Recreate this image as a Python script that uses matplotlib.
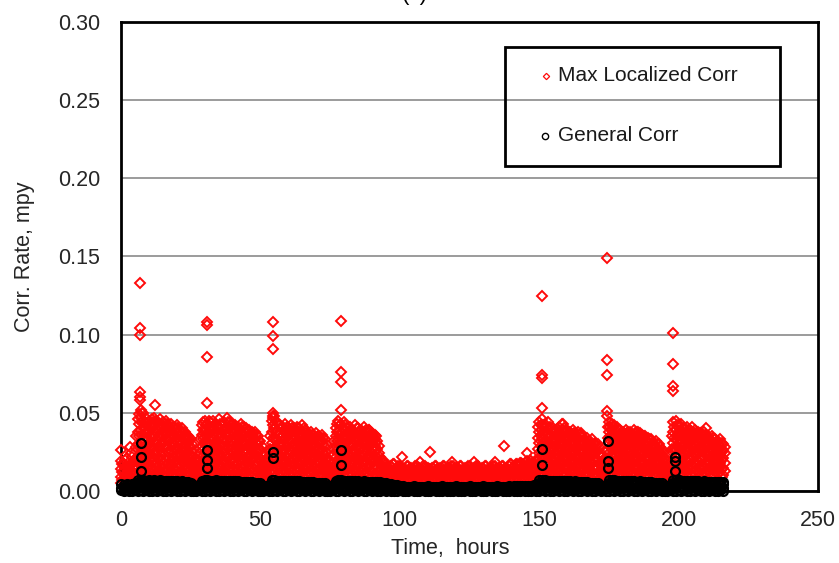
import numpy as np
import matplotlib
matplotlib.use('Agg')
import matplotlib.pyplot as plt
from matplotlib.patches import Rectangle

plt.rcParams['font.family'] = ['Liberation Sans', 'DejaVu Sans']

# hourly sample times, 0 to 216 h
hours = np.arange(217)

# max localized corrosion readings for each hour, in 1/1000 mpy
localized_hourly_x1000 = [
    [5, 9, 14, 19], [4, 8, 13, 17], [6, 11, 16, 21], [5, 10, 15], [7, 12, 18, 22], [6, 11, 16, 20],
    [9, 15, 22, 30, 38, 46], [11, 17, 24, 31, 39, 47, 52], [10, 18, 25, 33, 41, 50], [12, 19, 26, 34, 40, 47], [10, 16, 24, 31, 38, 45], [11, 18, 27, 33, 41, 46],
    [13, 20, 26, 35, 42, 47], [10, 17, 25, 32, 39, 44], [12, 19, 27, 34, 40, 46], [11, 18, 24, 31, 38, 44], [13, 20, 28, 33, 41, 45], [10, 17, 25, 32, 37, 42],
    [12, 19, 26, 33, 39, 43], [11, 18, 24, 30, 36, 41], [13, 20, 27, 34, 40, 42], [10, 16, 23, 29, 35, 39], [12, 18, 25, 31, 37, 40], [11, 17, 23, 30, 35, 38],
    [12, 19, 25, 31, 35], [10, 16, 22, 28, 33], [8, 13, 18, 22], [7, 12, 17, 21], [9, 14, 19, 24], [10, 16, 22, 29, 36, 42],
    [12, 18, 25, 32, 39, 45], [11, 17, 24, 31, 37, 43], [10, 17, 23, 30, 37, 44], [12, 19, 26, 33, 40, 45], [11, 18, 24, 31, 38, 43], [13, 20, 27, 34, 41, 46],
    [10, 16, 23, 30, 36, 42], [12, 19, 25, 33, 39, 44], [11, 17, 24, 32, 38, 47], [13, 20, 26, 32, 40, 44], [10, 18, 25, 31, 37, 43], [12, 19, 26, 33, 39, 42],
    [11, 17, 23, 30, 36, 41], [13, 20, 27, 33, 38, 43], [10, 16, 24, 30, 36, 41], [12, 18, 25, 31, 37, 40], [11, 17, 23, 29, 34, 39], [12, 19, 25, 31, 36, 38],
    [10, 16, 22, 28, 33, 38], [12, 18, 24, 30, 35], [10, 15, 21, 27, 32], [8, 13, 18, 23], [7, 12, 16, 20], [9, 14, 19, 25],
    [11, 17, 24, 31, 38, 45], [12, 19, 26, 33, 40, 48], [10, 18, 25, 32, 39, 44], [12, 19, 25, 31, 37, 42], [11, 17, 24, 30, 36, 41], [13, 20, 26, 33, 38, 43],
    [10, 16, 23, 29, 35, 40], [12, 18, 25, 31, 37, 42], [11, 17, 23, 30, 36, 40], [13, 19, 26, 32, 38, 41], [10, 17, 24, 30, 35, 40], [12, 18, 24, 31, 36, 42],
    [11, 16, 23, 29, 34, 39], [12, 18, 24, 30, 35, 37], [10, 16, 22, 28, 33, 38], [12, 19, 25, 30, 36], [11, 17, 23, 29, 34, 37], [13, 18, 24, 30, 35],
    [10, 16, 22, 27, 32, 36], [12, 17, 23, 28, 33], [8, 12, 17, 21], [7, 11, 15, 19], [9, 13, 18, 23], [10, 16, 22, 29, 35, 40],
    [12, 18, 25, 32, 38, 45], [11, 17, 24, 31, 37, 43], [13, 19, 26, 33, 39, 44], [10, 16, 23, 29, 35, 40], [12, 18, 25, 31, 37, 41], [11, 17, 24, 30, 36, 39],
    [13, 19, 25, 32, 37, 42], [10, 16, 22, 29, 34, 40], [12, 18, 24, 31, 36, 39], [11, 17, 23, 30, 35, 41], [12, 19, 25, 31, 36, 39], [10, 16, 22, 28, 34, 39],
    [12, 18, 24, 30, 35, 37], [11, 17, 23, 29, 33, 36], [10, 15, 21, 27, 32], [8, 12, 17, 22], [7, 11, 16, 20], [8, 13, 17],
    [6, 10, 15], [7, 12, 16], [8, 11, 17], [6, 10, 14], [7, 12, 16], [8, 11, 15],
    [6, 10, 14], [7, 12, 16], [8, 11, 15], [6, 10, 14], [7, 12, 16], [8, 11, 15],
    [6, 10, 13], [7, 12, 16], [8, 11, 15], [6, 10, 14], [7, 11, 15], [8, 12, 16],
    [6, 10, 14], [7, 11, 15], [8, 12, 16], [6, 10, 13], [7, 11, 15], [8, 12, 16],
    [6, 10, 14], [7, 11, 15], [8, 12, 16], [6, 10, 13], [7, 11, 15], [8, 12, 16],
    [6, 10, 14], [7, 11, 15], [8, 12, 16], [6, 10, 13], [7, 11, 15], [8, 12, 16],
    [6, 10, 14], [7, 11, 15], [8, 12, 16], [6, 10, 14], [7, 11, 15], [8, 12, 16],
    [6, 10, 14], [7, 12, 16], [8, 12, 17], [7, 11, 16], [8, 13, 17], [7, 12, 18],
    [8, 12, 17], [7, 13, 18], [8, 12, 17], [7, 13, 19], [8, 12, 18], [9, 14, 20],
    [11, 17, 24, 31, 38, 44], [12, 19, 26, 33, 39, 46], [10, 18, 25, 32, 38, 43], [12, 18, 24, 31, 37, 44], [11, 17, 23, 30, 36, 41], [13, 19, 26, 32, 38, 40],
    [10, 16, 23, 29, 35, 39], [12, 18, 25, 31, 36, 41], [11, 17, 24, 30, 36, 43], [12, 19, 25, 31, 37, 40], [10, 16, 22, 29, 35, 39], [12, 18, 24, 30, 36, 38],
    [11, 17, 23, 30, 35, 39], [13, 19, 25, 31, 36], [10, 16, 22, 28, 34, 38], [12, 18, 24, 30, 35, 37], [11, 17, 22, 28, 33], [12, 18, 24, 29, 34],
    [10, 16, 21, 27, 32], [12, 17, 23, 28, 33], [11, 16, 22, 27, 31], [10, 15, 20, 26, 30], [8, 12, 17, 22], [7, 11, 16, 20],
    [9, 14, 20, 26], [11, 17, 24, 31, 38, 44], [12, 19, 26, 33, 39, 43], [10, 16, 23, 30, 36, 42], [12, 18, 25, 31, 37, 41], [11, 17, 24, 30, 35, 39],
    [13, 19, 25, 31, 36, 38], [10, 16, 22, 29, 34, 39], [12, 18, 24, 30, 35, 38], [11, 17, 23, 29, 34, 37], [12, 19, 25, 31, 36, 39], [10, 16, 22, 28, 34, 38],
    [12, 18, 24, 30, 35, 37], [11, 17, 23, 29, 33, 36], [13, 18, 24, 30, 35], [10, 16, 22, 27, 32, 34], [12, 17, 23, 28, 33], [11, 16, 21, 27, 31],
    [12, 18, 23, 28, 32], [10, 15, 20, 26, 30], [11, 16, 21, 27], [8, 12, 17, 21], [7, 11, 15, 19], [9, 13, 18, 24],
    [11, 17, 24, 31, 38, 44], [12, 19, 26, 33, 39, 45], [10, 16, 23, 30, 36, 42], [12, 18, 25, 31, 37, 43], [11, 17, 24, 30, 35, 40], [13, 19, 25, 31, 36, 41],
    [10, 16, 22, 29, 34, 39], [12, 18, 24, 30, 35, 38], [11, 17, 23, 29, 34, 39], [12, 19, 25, 31, 36, 38], [10, 16, 22, 28, 34, 37], [12, 18, 24, 30, 35, 38],
    [11, 17, 23, 28, 33, 36], [13, 18, 24, 30, 34], [10, 16, 22, 27, 32, 35], [12, 17, 23, 28, 33], [11, 16, 21, 27, 32], [12, 18, 23, 28, 33],
    [10, 15, 21, 26, 30],
]

# readings taken at the half hours, in 1/1000 mpy (same bands, offset in time)
localized_halfhour_x1000 = [
    [7, 12, 17], [6, 10, 15, 20], [8, 13, 18], [7, 12, 17, 24], [5, 10, 14, 19], [8, 14, 21, 28, 35],
    [13, 20, 28, 35, 43, 49], [8, 14, 21, 28, 36, 44, 50], [14, 22, 29, 37, 44], [9, 15, 22, 29, 37, 43], [14, 21, 28, 35, 43], [9, 15, 22, 30, 37, 44],
    [15, 23, 30, 38, 45], [8, 14, 21, 29, 36, 42], [15, 23, 30, 37, 43], [9, 15, 21, 28, 35, 41], [14, 22, 29, 37, 43], [8, 15, 21, 29, 35, 40],
    [15, 22, 30, 36, 41], [9, 14, 21, 27, 33, 39], [15, 23, 31, 37, 40], [8, 13, 20, 26, 32, 37], [14, 21, 28, 34, 38], [9, 14, 20, 27, 33, 36],
    [15, 22, 28, 33], [8, 13, 19, 25, 30], [10, 15, 20], [9, 14, 19], [7, 12, 17, 27, 33], [13, 19, 26, 33, 39, 44],
    [9, 15, 22, 29, 35, 42], [14, 21, 28, 34, 40, 45], [8, 14, 20, 27, 34, 41], [15, 22, 29, 36, 42], [9, 15, 21, 28, 35, 41], [14, 21, 29, 37, 43],
    [8, 13, 20, 27, 33, 39], [15, 22, 29, 36, 41], [9, 14, 21, 28, 35, 44], [15, 23, 29, 36, 42], [8, 14, 21, 28, 34, 40], [15, 22, 29, 36, 41],
    [9, 14, 20, 27, 33, 39], [15, 23, 30, 36, 41], [8, 13, 20, 27, 33, 38], [14, 21, 28, 34, 38], [9, 14, 20, 26, 31, 36], [15, 22, 28, 33, 37],
    [8, 13, 19, 25, 31, 36], [14, 21, 27, 32], [8, 12, 18, 24, 29], [10, 15, 20], [9, 14, 18], [7, 12, 17, 27, 35],
    [14, 20, 27, 34, 42, 47], [9, 15, 22, 29, 37, 44], [15, 22, 29, 36, 42], [9, 15, 22, 28, 34, 40], [14, 21, 27, 33, 39], [9, 15, 22, 29, 35, 41],
    [14, 20, 26, 32, 38], [9, 15, 21, 28, 34, 40], [14, 20, 27, 33, 38], [9, 15, 22, 29, 35, 40], [14, 21, 27, 33, 38], [9, 15, 21, 27, 33, 40],
    [14, 20, 26, 32, 37], [9, 15, 21, 27, 32, 36], [13, 19, 25, 31, 36], [9, 15, 22, 28, 33], [14, 20, 26, 32, 35], [10, 15, 21, 27, 32],
    [13, 19, 25, 30, 34], [9, 14, 20, 25, 30], [10, 14, 19], [9, 13, 17], [7, 11, 16, 26, 32], [13, 19, 26, 32, 38, 43],
    [9, 15, 22, 29, 35, 42], [14, 21, 28, 34, 40], [9, 16, 23, 30, 36, 42], [14, 20, 26, 32, 38], [9, 15, 22, 28, 34, 39], [14, 21, 27, 33, 38],
    [9, 16, 22, 29, 35, 40], [13, 19, 26, 32, 37], [9, 15, 21, 28, 34, 38], [14, 20, 27, 33, 38], [9, 16, 22, 28, 34, 37], [13, 19, 25, 31, 36],
    [9, 15, 21, 27, 33, 36], [14, 20, 26, 31, 35], [8, 13, 18, 24, 29], [10, 14, 19], [9, 13, 18], [7, 11, 15],
    [8, 12, 16], [9, 13, 17], [7, 10, 14], [8, 12, 16], [9, 13, 15], [7, 10, 14],
    [8, 13, 16], [9, 12, 15], [7, 10, 14], [8, 13, 16], [9, 12, 14], [7, 10, 13],
    [8, 12, 16], [9, 13, 15], [7, 10, 14], [8, 12, 15], [9, 13, 16], [7, 10, 14],
    [8, 12, 15], [9, 13, 16], [7, 10, 14], [8, 12, 15], [9, 13, 16], [7, 10, 14],
    [8, 12, 15], [9, 13, 16], [7, 10, 14], [8, 12, 15], [9, 13, 16], [7, 10, 14],
    [8, 12, 15], [9, 13, 16], [7, 10, 14], [8, 12, 15], [9, 13, 16], [7, 10, 14],
    [8, 12, 15], [9, 13, 16], [7, 10, 14], [8, 12, 15], [9, 13, 16], [7, 10, 14],
    [8, 12, 15], [9, 13, 17], [7, 11, 15], [9, 13, 17], [8, 12, 16], [9, 14, 18],
    [8, 12, 16], [9, 14, 19], [8, 12, 16], [9, 14, 18], [8, 13, 17], [13, 20, 27, 34, 41],
    [9, 15, 22, 29, 35, 42], [15, 22, 29, 36, 42], [8, 14, 21, 28, 35, 41], [14, 21, 27, 34, 40], [9, 15, 21, 28, 33, 38], [14, 21, 28, 34, 38],
    [8, 14, 20, 26, 32, 37], [14, 20, 27, 33, 38], [9, 15, 21, 27, 33, 39], [14, 21, 27, 33, 38], [8, 14, 20, 26, 32, 37], [14, 20, 26, 32, 36],
    [9, 14, 20, 26, 32, 37], [15, 21, 27, 33], [8, 14, 20, 26, 31, 36], [14, 20, 26, 32, 35], [9, 14, 20, 25, 31], [14, 20, 26, 31],
    [8, 13, 19, 24, 30], [14, 20, 25, 30], [9, 14, 19, 24, 29], [8, 12, 17, 23, 28], [10, 14, 19], [9, 13, 18],
    [13, 19, 26, 34, 41], [9, 15, 21, 28, 35, 41], [14, 21, 28, 35, 41], [8, 14, 20, 27, 33, 39], [14, 20, 27, 33, 39], [9, 15, 21, 27, 33, 37],
    [15, 21, 27, 33, 37], [8, 14, 20, 26, 32, 37], [14, 20, 26, 32, 36], [9, 15, 21, 27, 32, 36], [14, 21, 27, 33, 37], [8, 14, 20, 26, 32, 36],
    [14, 20, 26, 32, 35], [9, 15, 21, 27, 31, 35], [15, 20, 26, 32], [8, 14, 20, 25, 30, 33], [14, 19, 25, 30], [9, 14, 19, 25, 29],
    [14, 20, 25, 30], [8, 13, 18, 24, 28], [9, 14, 19, 25], [10, 14, 19], [9, 13, 17], [7, 11, 16, 27, 35],
    [14, 20, 27, 34, 41], [9, 15, 22, 29, 36, 42], [14, 20, 27, 33, 39], [9, 15, 22, 28, 34, 40], [14, 20, 27, 33, 38], [9, 15, 21, 28, 34, 39],
    [14, 20, 26, 32, 37], [9, 15, 21, 27, 33, 37], [14, 20, 26, 32, 37], [9, 15, 21, 28, 33, 37], [14, 20, 26, 32, 36], [9, 15, 21, 27, 33, 36],
    [14, 20, 26, 31, 35], [9, 15, 21, 27, 32], [14, 19, 25, 30, 34], [9, 14, 20, 25, 31], [14, 19, 24, 30], [9, 14, 20, 25, 31],
    [13, 18, 24, 28],
]

# general corrosion readings for each hour, in 1/10000 mpy
general_hourly_x10000 = [
    [4, 22, 42], [2, 18, 38], [5, 25, 44], [3, 20, 40], [1, 24, 45], [4, 28, 50],
    [3, 27, 52, 70], [5, 30, 55, 72], [2, 26, 50, 68], [4, 29, 53, 66], [1, 25, 48, 70], [3, 28, 54, 67],
    [5, 24, 50, 69], [2, 27, 47, 65], [4, 30, 52, 68], [1, 26, 49, 64], [3, 28, 51, 66], [5, 25, 47, 63],
    [2, 27, 50, 65], [4, 24, 46, 62], [1, 28, 49, 64], [3, 25, 45, 60], [5, 27, 48, 62], [2, 24, 44, 58],
    [4, 22, 42, 55], [1, 20, 40, 52], [3, 18, 36], [2, 16, 34], [4, 20, 40], [1, 26, 50, 66],
    [3, 29, 55, 72], [5, 27, 52, 70], [2, 25, 49, 67], [4, 28, 51, 65], [1, 24, 48, 68], [3, 27, 50, 64],
    [5, 25, 47, 66], [2, 28, 51, 63], [4, 24, 46, 65], [1, 27, 49, 62], [3, 25, 48, 64], [5, 23, 45, 61],
    [2, 26, 47, 63], [4, 24, 44, 60], [1, 22, 46, 59], [3, 25, 43, 58], [5, 21, 42, 56], [2, 23, 44, 55],
    [4, 20, 40, 54], [1, 22, 41, 52], [3, 19, 38, 50], [2, 17, 35], [4, 16, 33], [1, 20, 38],
    [3, 28, 54, 72], [5, 30, 52, 70], [2, 26, 50, 67], [4, 28, 48, 65], [1, 25, 51, 66], [3, 27, 47, 63],
    [5, 24, 49, 65], [2, 26, 46, 62], [4, 23, 48, 64], [1, 25, 45, 61], [3, 22, 47, 62], [5, 24, 44, 59],
    [2, 21, 43, 60], [4, 23, 42, 57], [1, 20, 44, 56], [3, 22, 41, 55], [5, 19, 40, 53], [2, 21, 39, 52],
    [4, 18, 38, 50], [1, 20, 37, 48], [3, 17, 34], [2, 15, 32], [4, 19, 37], [1, 25, 48, 64],
    [3, 29, 54, 72], [5, 27, 52, 70], [2, 25, 50, 66], [4, 28, 47, 64], [1, 24, 49, 65], [3, 26, 46, 62],
    [5, 23, 48, 63], [2, 25, 45, 61], [4, 22, 47, 60], [1, 24, 44, 62], [3, 21, 46, 59], [5, 23, 43, 58],
    [2, 20, 42, 60], [4, 22, 44, 57], [1, 24, 45, 58], [3, 22, 42, 55], [5, 20, 40, 52], [2, 18, 38, 48],
    [4, 21, 36, 45], [1, 17, 34, 42], [3, 19, 33, 40], [2, 16, 31, 37], [4, 18, 30], [1, 15, 29],
    [3, 16, 28], [1, 13, 27], [4, 15, 26], [2, 14, 29], [3, 16, 27], [1, 12, 25],
    [4, 15, 28], [2, 13, 26], [3, 16, 29], [1, 14, 27], [4, 12, 25], [2, 15, 28],
    [3, 13, 26], [1, 16, 29], [4, 14, 27], [2, 12, 25], [3, 15, 28], [1, 13, 26],
    [4, 16, 29], [2, 14, 27], [3, 12, 25], [1, 15, 28], [4, 13, 26], [2, 16, 29],
    [3, 14, 27], [1, 12, 25], [4, 15, 28], [2, 13, 26], [3, 16, 29], [1, 14, 27],
    [4, 12, 26], [2, 15, 28], [3, 13, 27], [1, 16, 29], [4, 14, 26], [2, 12, 28],
    [3, 15, 27], [1, 13, 29], [4, 16, 28], [2, 14, 30], [3, 17, 31], [1, 15, 29],
    [4, 16, 32], [2, 18, 33], [3, 16, 31], [1, 19, 34], [4, 18, 36], [2, 21, 40],
    [3, 26, 50, 68], [5, 29, 54, 72], [2, 27, 52, 70], [4, 25, 49, 67], [1, 28, 51, 65], [3, 24, 48, 66],
    [5, 27, 50, 63], [2, 25, 47, 65], [4, 28, 49, 62], [1, 24, 46, 64], [3, 26, 48, 61], [5, 23, 45, 63],
    [2, 25, 47, 60], [4, 22, 44, 62], [1, 24, 46, 59], [3, 21, 43, 58], [5, 23, 45, 57], [2, 20, 42, 56],
    [4, 22, 41, 54], [1, 19, 40, 53], [3, 21, 39, 51], [5, 18, 38, 50], [2, 17, 35], [4, 16, 33],
    [1, 20, 38], [3, 28, 53, 72], [5, 30, 55, 70], [2, 27, 51, 68], [4, 25, 49, 66], [1, 28, 50, 64],
    [3, 24, 47, 65], [5, 26, 49, 62], [2, 23, 46, 64], [4, 25, 48, 61], [1, 22, 45, 63], [3, 24, 47, 60],
    [5, 21, 44, 62], [2, 23, 46, 59], [4, 20, 43, 58], [1, 22, 42, 56], [3, 19, 41, 55], [5, 21, 40, 53],
    [2, 18, 39, 52], [4, 20, 38, 50], [1, 17, 37, 48], [3, 16, 34], [2, 15, 32], [4, 19, 37],
    [1, 27, 52, 70], [3, 29, 54, 72], [5, 26, 51, 68], [2, 28, 49, 66], [4, 25, 50, 64], [1, 27, 47, 65],
    [3, 24, 49, 63], [5, 26, 46, 64], [2, 23, 48, 61], [4, 25, 45, 62], [1, 22, 47, 60], [3, 24, 44, 61],
    [5, 21, 46, 58], [2, 23, 43, 59], [4, 20, 45, 57], [1, 22, 42, 58], [3, 19, 44, 56], [5, 21, 41, 57],
    [2, 18, 43, 55],
]

# readings right after each upset (mpy)
localized_spike_hours = [6.8, 6.8, 6.8, 6.8, 6.8, 6.8, 30.7, 30.7, 30.7, 30.7,
                         54.6, 54.6, 54.6, 54.6, 54.6, 78.8, 78.8, 78.8, 78.8,
                         150.9, 150.9, 150.9, 150.9, 174.4, 174.4, 174.4, 174.4, 174.4,
                         198.1, 198.1, 198.1, 198.1]
localized_spike_rate = [0.133, 0.104, 0.100, 0.063, 0.060, 0.058, 0.108, 0.106, 0.086, 0.056,
                        0.108, 0.099, 0.091, 0.050, 0.048, 0.109, 0.076, 0.070, 0.052,
                        0.125, 0.074, 0.072, 0.053, 0.149, 0.084, 0.074, 0.051, 0.048,
                        0.101, 0.081, 0.067, 0.064]

# isolated localized readings away from the dense bands
localized_stray_hours = [0.0, 3.2, 12.2, 89.0, 100.7, 107.2, 110.8, 118.6, 126.6, 134.1,
                         137.4, 145.5, 158.7, 182.6, 185.4, 204.7, 209.8]
localized_stray_rate = [0.026, 0.028, 0.055, 0.039, 0.022, 0.0185, 0.025, 0.0185, 0.0185, 0.0185,
                        0.029, 0.0245, 0.043, 0.038, 0.038, 0.041, 0.040]

general_spike_hours = [7.0, 7.0, 7.0, 30.7, 30.7, 30.7, 54.6, 54.6, 79.0, 79.0,
                       150.9, 150.9, 174.8, 174.8, 174.8, 198.7, 198.7, 198.7]
general_spike_rate = [0.031, 0.022, 0.013, 0.026, 0.020, 0.0145, 0.025, 0.021, 0.026, 0.0166,
                      0.027, 0.0166, 0.032, 0.019, 0.015, 0.022, 0.019, 0.013]


def flatten(times, rows, scale):
    xs, ys = [], []
    for h, row in zip(times, rows):
        xs += [h] * len(row)
        ys += [v / scale for v in row]
    return xs, ys


loc_x, loc_y = flatten(hours, localized_hourly_x1000, 1000.0)
half_x, half_y = flatten(hours + 0.5, localized_halfhour_x1000, 1000.0)
loc_x += half_x + localized_spike_hours + localized_stray_hours
loc_y += half_y + localized_spike_rate + localized_stray_rate

gen_x, gen_y = flatten(hours, general_hourly_x10000, 10000.0)
gen_x += general_spike_hours
gen_y += general_spike_rate

fig, ax = plt.subplots(figsize=(8.39, 5.63), dpi=100)
fig.subplots_adjust(left=0.1442, right=0.975, bottom=0.1279, top=0.961)

red = '#ff0a0a'
ax.plot(loc_x, loc_y, linestyle='none', marker='D', ms=4.9, mfc='none',
        mec=red, mew=1.4, clip_on=False, zorder=3)
ax.plot(gen_x, gen_y, linestyle='none', marker='o', ms=6.4, mfc='none',
        mec='black', mew=1.6, clip_on=False, zorder=4)

ax.set_xlim(0, 250)
ax.set_ylim(0, 0.30)
ax.set_xticks(np.arange(0, 251, 50))
ax.set_yticks(np.arange(0, 0.301, 0.05))
ax.yaxis.set_major_formatter(plt.FormatStrFormatter('%.2f'))
ax.tick_params(axis='both', length=0, labelsize=15.5, labelcolor='#262626')
ax.tick_params(axis='y', pad=15)
ax.tick_params(axis='x', pad=14)

ax.grid(axis='y', color='#8a8a8a', lw=1.2)
ax.set_axisbelow(True)
for s in ax.spines.values():
    s.set_linewidth(2)
    s.set_color('black')

ax.set_xlabel('Time,  hours', fontsize=15.5, color='#262626')
ax.xaxis.set_label_coords(0.472, -0.10)
ax.set_ylabel('Corr. Rate, mpy', fontsize=15.5, color='#262626')
ax.yaxis.set_label_coords(-0.123, 0.5)

# legend box, drawn by hand so it matches the original placement
ax.add_patch(Rectangle((0.551, 0.693), 0.3945, 0.2537, transform=ax.transAxes,
                       fill=False, lw=2, ec='black', zorder=5, clip_on=False))
ax.plot([0.6095], [0.885], transform=ax.transAxes, marker='D', ms=3.2, mfc='none',
        mec=red, mew=0.9, zorder=6, clip_on=False)
ax.text(0.627, 0.885, 'Max Localized Corr', transform=ax.transAxes, fontsize=15,
        va='center', ha='left', color='#1a1a1a', zorder=6)
ax.plot([0.6085], [0.757], transform=ax.transAxes, marker='o', ms=4.5, mfc='none',
        mec='black', mew=1.0, zorder=6, clip_on=False)
ax.text(0.627, 0.757, 'General Corr', transform=ax.transAxes, fontsize=15,
        va='center', ha='left', color='#1a1a1a', zorder=6)

fig.text(415 / 839, 1 - 5 / 563, '(c)', ha='center', va='bottom', fontsize=16)

fig.savefig('out.png', dpi=100)
